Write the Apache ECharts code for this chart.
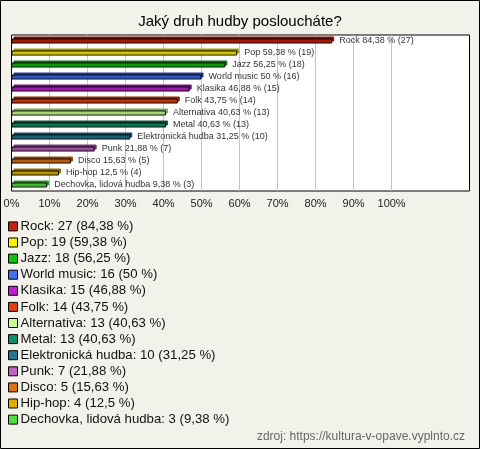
<!DOCTYPE html>
<html>
<head>
<meta charset="utf-8">
<script src="https://cdn.jsdelivr.net/npm/echarts@6/dist/echarts.min.js"></script>
<style>
  html, body { margin: 0; padding: 0; background: #f3f2ea; }
  #main { width: 480px; height: 449px; }
</style>
</head>
<body>
<div id="main"></div>
<script>
const categories = ['Rock', 'Pop', 'Jazz', 'World music', 'Klasika', 'Folk', 'Alternativa',
    'Metal', 'Elektronická hudba', 'Punk', 'Disco', 'Hip-hop', 'Dechovka, lidová hudba']
const counts = [27, 19, 18, 16, 15, 14, 13, 13, 10, 7, 5, 4, 3]
const percents = [84.38, 59.38, 56.25, 50, 46.88, 43.75, 40.63, 40.63, 31.25, 21.88, 15.63, 12.5, 9.38]
const colors = ['#c8200c', '#fff000', '#10c010', '#4070f0', '#c020d0', '#e04010', '#c8ff90',
    '#10906a', '#207890', '#c060c0', '#e07010', '#e0b000', '#50e040']
const shades = ['#801008', '#a09800', '#087008', '#203c90', '#701080', '#902808', '#80a858',
    '#085838', '#104858', '#783878', '#904808', '#907000', '#309028']
// ticks labelled 0..100 %, the plot area runs on a bit past 100 %
const xTicks = [0, 100, 10]
const xMax = 120.5

const fmt = v => String(v).replace('.', ',')

const chart = echarts.init(document.getElementById('main'))

const series = categories.map((name, i) => ({
    name: name,
    type: 'bar',
    stack: 'all',
    barWidth: 5,
    data: categories.map((c, j) => j === i ? percents[i] : null),
    itemStyle: {
        color: colors[i],
        borderColor: '#000',
        borderWidth: 1,
        shadowColor: shades[i],
        shadowBlur: 0,
        shadowOffsetX: 2,
        shadowOffsetY: -2
    },
    label: {
        show: true,
        position: 'right',
        distance: 7,
        color: '#333',
        fontFamily: 'Liberation Sans, Arial',
        fontSize: 9,
        formatter: () => name + ' ' + fmt(percents[i]) + ' % (' + counts[i] + ')'
    }
}))

// grey lines for 10..100 %, none for the left edge and beyond 100 %
const lineColors = []
for (let v = 0; v <= xMax; v += xTicks[2]) {
    lineColors.push(v > xTicks[0] && v <= xTicks[1] ? '#c4c4c4' : 'rgba(0,0,0,0)')
}
lineColors.push('rgba(0,0,0,0)')

chart.setOption({
    backgroundColor: '#f3f2ea',
    animation: false,
    title: [
        {
            text: 'Jaký druh hudby posloucháte?',
            left: 'center',
            top: 9,
            textStyle: { color: '#000', fontSize: 15, fontWeight: 'normal', fontFamily: 'Liberation Sans, Arial' }
        },
        {
            text: 'zdroj: https://kultura-v-opave.vyplnto.cz',
            right: 10,
            top: 426,
            textStyle: { color: '#666', fontSize: 12, fontWeight: 'normal', fontFamily: 'Liberation Sans, Arial' }
        }
    ],
    graphic: [{
        type: 'rect',
        shape: { x: 0.5, y: 0.5, width: 479, height: 448 },
        style: { fill: 'none', stroke: '#000', lineWidth: 1 },
        silent: true
    }],
    legend: {
        orient: 'vertical',
        left: 3,
        top: 214,
        itemWidth: 9,
        itemHeight: 9,
        itemGap: 1.3,
        icon: 'rect',
        data: categories,
        itemStyle: { borderColor: '#000', borderWidth: 1, shadowColor: 'transparent', shadowOffsetX: 0, shadowOffsetY: 0 },
        formatter: name => {
            const i = categories.indexOf(name)
            return name + ': ' + counts[i] + ' (' + fmt(percents[i]) + ' %)'
        },
        textStyle: { color: '#111', fontSize: 13.2, lineHeight: 14.8, fontFamily: 'Liberation Sans, Arial', padding: [0, 0, 0, -2] }
    },
    grid: {
        left: 11.5, top: 35, width: 458, height: 156,
        show: true, backgroundColor: '#fff', borderColor: '#000', borderWidth: 1
    },
    xAxis: {
        type: 'value',
        min: xTicks[0],
        max: xMax,
        interval: xTicks[2],
        axisLine: { show: false },
        axisTick: { show: false },
        axisLabel: {
            formatter: v => v <= xTicks[1] ? v + '%' : '',
            color: '#222',
            fontSize: 11,
            fontFamily: 'Liberation Sans, Arial',
            margin: 7,
            showMaxLabel: false
        },
        splitLine: { show: true, lineStyle: { color: lineColors, width: 1 } }
    },
    yAxis: {
        type: 'category',
        data: categories,
        inverse: true,
        axisLine: { show: false },
        axisTick: { show: false },
        axisLabel: { show: false },
        splitLine: { show: false }
    },
    series: series
})
</script>
</body>
</html>
